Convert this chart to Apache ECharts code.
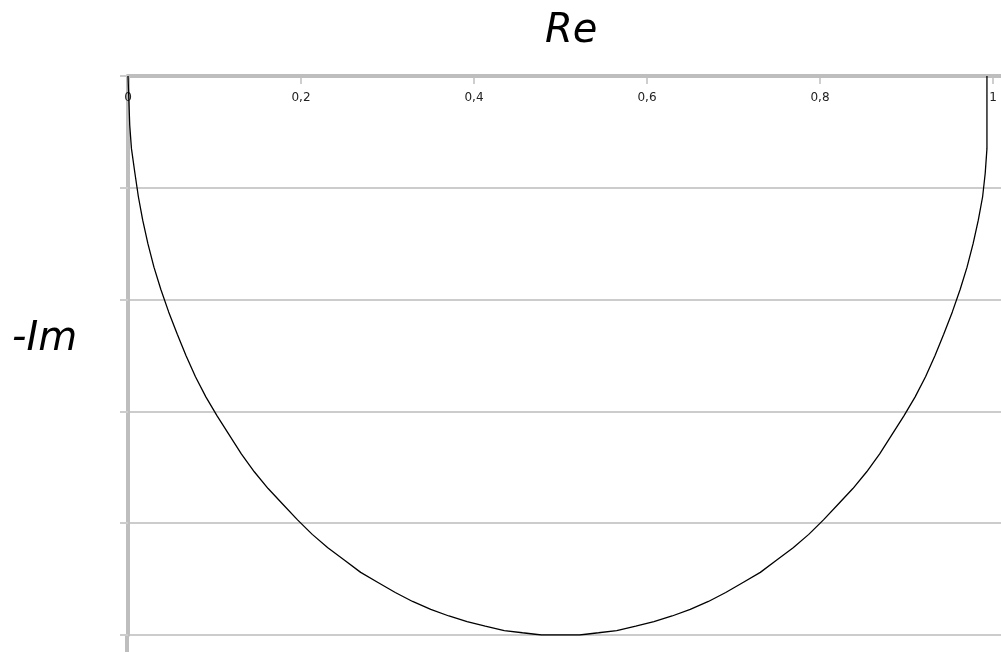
<!DOCTYPE html>
<html>
<head>
<meta charset="utf-8">
<script src="https://cdn.jsdelivr.net/npm/echarts@6/dist/echarts.min.js"></script>
<style>html,body{margin:0;padding:0;background:#fff}#c{width:1001px;height:652px}</style>
</head>
<body>
<div id="c"></div>
<script>
var reValues = [0.000,0.001,0.002,0.004,0.008,0.012,0.017,0.023,0.030,0.038,0.047,0.057,0.067,0.078,0.090,0.103,0.117,0.131,0.146,0.162,0.179,0.196,0.213,0.231,0.250,0.269,0.289,0.309,0.329,0.350,0.371,0.392,0.413,0.435,0.456,0.478,0.500,
                0.522,0.544,0.565,0.587,0.608,0.629,0.650,0.671,0.691,0.711,0.731,0.750,0.769,0.787,0.804,0.821,0.838,0.854,0.869,0.883,0.897,0.910,0.922,0.933,0.943,0.953,0.962,0.970,0.977,0.983,0.988,0.991,0.993,0.993,0.993,0.993];
var negImValues = [0.000,0.022,0.044,0.065,0.087,0.108,0.129,0.150,0.171,0.191,0.211,0.231,0.250,0.269,0.287,0.304,0.321,0.338,0.354,0.369,0.383,0.397,0.410,0.422,0.433,0.444,0.453,0.462,0.470,0.477,0.483,0.488,0.492,0.496,0.498,0.500,0.500,
                   0.500,0.498,0.496,0.492,0.488,0.483,0.477,0.470,0.462,0.453,0.444,0.433,0.422,0.410,0.397,0.383,0.369,0.354,0.338,0.321,0.304,0.287,0.269,0.250,0.231,0.211,0.191,0.171,0.150,0.129,0.108,0.087,0.065,0.044,0.022,0.000];
var xTicks = [0, 0.2, 0.4, 0.6, 0.8, 1];
var xAxisEnd = 1.00925;   // axis runs a little past the last labelled tick
var yTicks = [0, 0.1, 0.2, 0.3, 0.4, 0.5];
var xTitle = 'Re';
var yTitle = '-Im';

var points = reValues.map(function (v, i) { return [v, negImValues[i]]; });
var chart = echarts.init(document.getElementById('c'), null, {renderer: 'canvas'});
var axisGray = '#bebebe';
var gridGray = '#cccccc';
chart.setOption({
  animation: false,
  backgroundColor: '#fff',
  grid: {left: 128, right: 0, top: 76, bottom: 17, containLabel: false},
  xAxis: {
    type: 'value', position: 'top',
    min: xTicks[0], max: xAxisEnd, interval: 0.2,
    axisLine: {show: true, onZero: false, lineStyle: {color: axisGray, width: 4}},
    axisTick: {show: true, inside: true, length: 8, lineStyle: {color: axisGray, width: 1.5}},
    axisLabel: {show: true, inside: true, margin: 16, fontSize: 12, color: '#222',
      fontFamily: 'DejaVu Sans', showMaxLabel: false,
      formatter: function (v) { return String(v).replace('.', ','); }},
    splitLine: {show: false}
  },
  yAxis: {
    type: 'value', inverse: true, position: 'left',
    min: yTicks[0], max: yTicks[yTicks.length - 1], interval: 0.1,
    axisLine: {show: true, onZero: false, lineStyle: {color: axisGray, width: 4}},
    axisTick: {show: true, inside: false, length: 8, lineStyle: {color: gridGray, width: 2}},
    axisLabel: {show: false},
    splitLine: {show: true, lineStyle: {color: gridGray, width: 2}}
  },
  series: [{
    type: 'line', data: points, showSymbol: false, smooth: false,
    lineStyle: {color: '#000', width: 1.3}, silent: true
  }],
  graphic: [
    {type: 'rect', shape: {x: 125, y: 636, width: 4, height: 16}, style: {fill: axisGray}, z: 0},
    {type: 'text', left: 545, top: 12, style: {text: xTitle, font: 'italic 40px "DejaVu Sans"', fill: '#000'}},
    {type: 'text', left: 12, top: 320, style: {text: yTitle, font: 'italic 40px "DejaVu Sans"', fill: '#000'}}
  ]
});
</script>
</body>
</html>
